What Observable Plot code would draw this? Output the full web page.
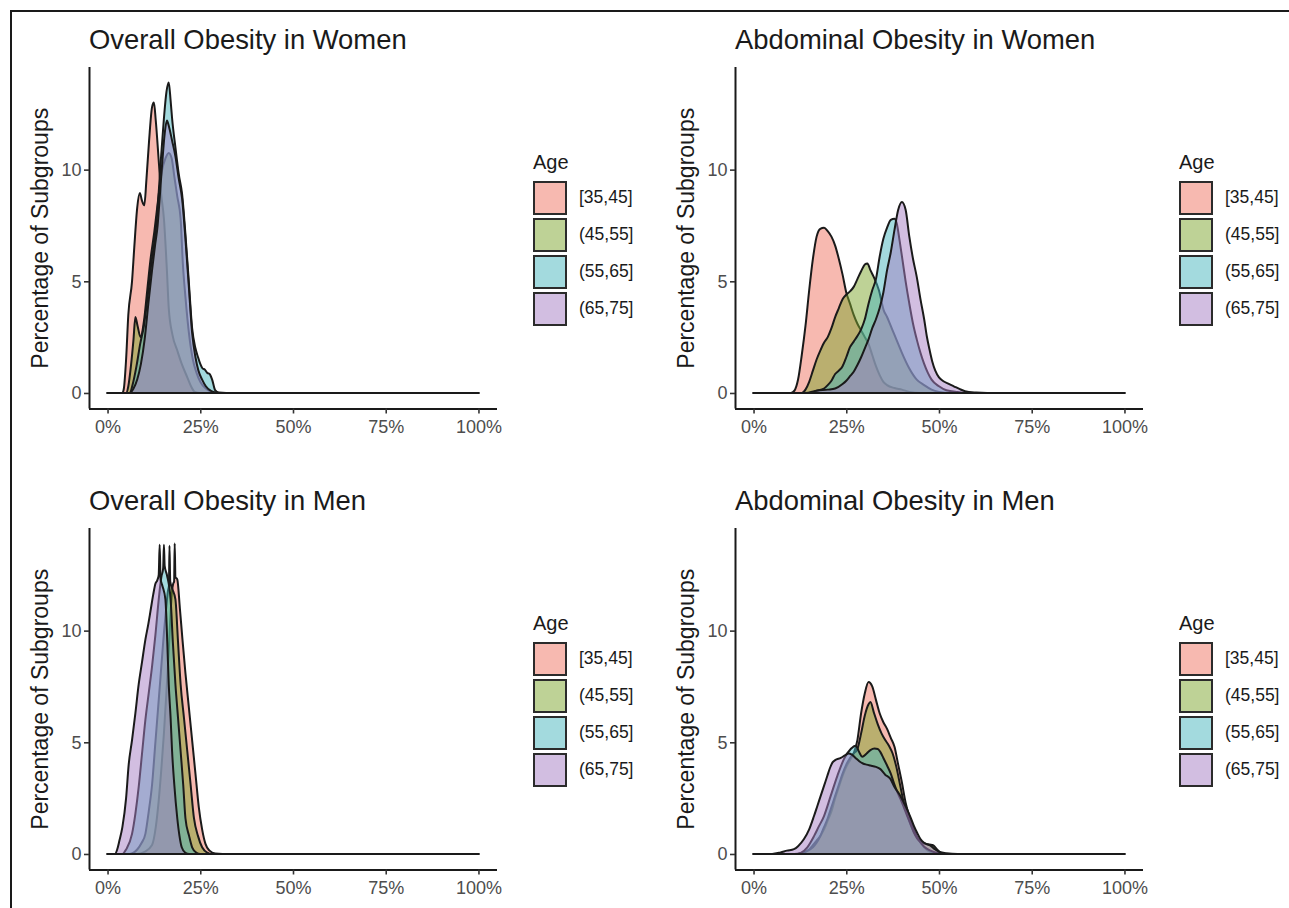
<!DOCTYPE html>
<html>
<head>
<meta charset="utf-8">
<script src="https://cdn.jsdelivr.net/npm/d3@7"></script>
<script src="https://cdn.jsdelivr.net/npm/@observablehq/plot@0.6"></script>
<style>
  body { margin: 0; background: #fff; font-family: "Liberation Sans", Arial, sans-serif; }
  #root { position: relative; width: 1289px; height: 908px; overflow: hidden; background: #fff; }
  #frame { position: absolute; left: 10px; top: 10px; right: -4px; bottom: -4px; border-top: 2px solid #1a1a1a; border-left: 2px solid #1a1a1a; }
  .title { position: absolute; font-size: 27.4px; color: #1a1a1a; white-space: nowrap; line-height: 1; }
  .panel { position: absolute; }
  .panel svg { overflow: visible; }
  .legend { position: absolute; }
  .ltitle { position: absolute; left: 0; top: 0; font-size: 20px; line-height: 1; color: #1a1a1a; white-space: nowrap; }
  .key { position: absolute; left: 0; width: 30px; height: 30px; border: 2px solid #2b2b2b; }
  .klabel { position: absolute; font-size: 17.5px; line-height: 1; color: #1a1a1a; white-space: nowrap; }
</style>
</head>
<body>
<div id="root"><div id="frame"></div></div>
<script>
// ---- categories, labels, ticks ----
const ages = ["[35,45]", "(45,55]", "(55,65]", "(65,75]"];
const colors = ["#EF7361", "#7DA52D", "#47B5BD", "#A57DC3"];
const titles = ["Overall Obesity in Women", "Abdominal Obesity in Women", "Overall Obesity in Men", "Abdominal Obesity in Men"];
const yLabel = "Percentage of Subgroups";
const legendTitle = "Age";
const xTicks = [0, 0.25, 0.5, 0.75, 1];
const yTicks = [0, 5, 10];

// ---- density curves: [percent, density] ----
// Overall obesity, women
const owA = [[0,0],[4,0],[4.4,0.2],[5,1.5],[5.6,3.5],[6.6,5.0],[7.2,6.5],[8,8.3],[8.7,8.95],[9.3,8.6],[9.9,8.4],[10.5,9.6],[11.2,11.3],[12,12.8],[12.5,13.0],[13,12.2],[13.8,10.4],[14.4,9.0],[15.2,7.8],[16,5.5],[16.5,3.8],[17.5,2.6],[18.8,1.9],[20,1.3],[21.5,0.7],[22.5,0.3],[23.5,0.05],[25,0],[100,0]];
const owB = [[0,0],[5,0],[5.6,0.3],[6.3,1.2],[7,2.4],[7.5,3.4],[8.1,3.0],[8.9,2.5],[9.8,3.2],[10.7,4.6],[11.6,6.0],[12.6,7.2],[13.6,8.6],[14.6,9.9],[15.6,10.5],[16.5,10.75],[17.3,10.5],[18,9.7],[18.8,8.8],[19.7,7.8],[20.3,5.8],[21,4.3],[22,2.6],[23,1.5],[24,0.9],[25,0.5],[26.5,0.2],[28,0.05],[30,0],[100,0]];
const owC = [[0,0],[6,0],[6.8,0.4],[7.8,1.2],[8.8,2.2],[9.8,3.0],[10.8,4.3],[11.8,5.8],[12.8,7.0],[13.6,8.5],[14.4,10.5],[15.2,12.3],[15.9,13.5],[16.5,13.9],[17,13.1],[17.4,12.3],[18.3,11.0],[19.2,9.8],[20.1,8.9],[21,7.1],[21.9,5.0],[22.8,2.9],[23.7,2.0],[24.4,1.6],[25,1.3],[25.6,1.1],[26.2,1.05],[26.9,0.9],[27.5,0.85],[28.2,0.6],[29,0.13],[30,0.02],[32,0],[100,0]];
const owD = [[0,0],[6,0],[7,0.2],[8,0.6],[9,1.3],[10,2.4],[11,4.0],[12,5.5],[12.8,6.6],[13.5,7.5],[14,8.6],[14.7,10.2],[15.4,11.6],[16,12.2],[16.6,11.9],[17.4,11.3],[18.3,10.6],[19.2,9.6],[20.1,8.7],[21,6.9],[21.9,4.8],[22.8,2.7],[23.7,1.6],[24.5,1.0],[25.5,0.6],[26.5,0.3],[28,0.08],[30,0],[100,0]];
// Abdominal obesity, women
const awA = [[0,0],[10,0],[11,0.1],[12,0.6],[13,1.7],[14,3.0],[15,4.6],[16,6.0],[17,7.0],[18,7.35],[19,7.4],[20,7.25],[21,7.0],[22,6.6],[23,6.0],[24,5.3],[25,4.5],[26,4.0],[27,3.5],[28,3.1],[29,2.8],[30,2.5],[31,2.2],[32,1.7],[33,1.2],[34,0.8],[35,0.5],[36,0.35],[38,0.22],[40,0.15],[42,0.05],[45,0],[100,0]];
const awB = [[0,0],[13,0],[14,0.15],[15,0.5],[16,1.0],[17,1.5],[18,1.9],[19,2.25],[20,2.5],[21,2.9],[22,3.4],[23,3.8],[24,4.2],[25,4.4],[26,4.55],[27,4.75],[28,5.1],[29,5.45],[30,5.75],[30.7,5.8],[31.5,5.5],[32.4,5.2],[33.8,4.6],[35.1,3.7],[36,3.4],[37,3.0],[38,2.6],[39,2.2],[40,1.8],[42,1.1],[44,0.6],[46,0.35],[48,0.15],[50,0.05],[53,0],[100,0]];
const awC = [[0,0],[15,0],[17,0.1],[19,0.2],[20,0.35],[21,0.55],[22,0.85],[23,1.0],[24,1.2],[25,1.6],[26,2.05],[27,2.3],[28,2.55],[29,2.85],[30,3.3],[31,4.0],[32,4.6],[33,5.1],[34,6.1],[35,6.9],[36,7.4],[37,7.75],[38,7.8],[38.6,7.6],[39.4,6.8],[40.2,5.9],[41,5.0],[42,4.0],[43,3.1],[44,2.4],[45,1.8],[46,1.3],[47,0.9],[48,0.6],[50,0.3],[52,0.12],[55,0.04],[58,0],[100,0]];
const awD = [[0,0],[14,0],[17,0.1],[20,0.15],[22,0.2],[24,0.4],[25,0.55],[26,0.75],[27,0.95],[28,1.25],[29,1.6],[30,2.0],[31,2.4],[32,2.9],[33,3.3],[34,3.8],[35,4.5],[36,5.5],[37,6.3],[38,7.3],[39,8.2],[40,8.55],[41,8.2],[42,7.0],[43,6.0],[44,5.2],[45,4.2],[46,3.3],[46.7,2.55],[47.5,1.9],[48.2,1.4],[49,1.0],[50,0.7],[51,0.55],[52.5,0.42],[54,0.3],[55.5,0.18],[57,0.08],[60,0.02],[63,0],[100,0]];
// Overall obesity, men
const omA = [[0,0],[8,0],[10,0.1],[12,0.4],[13,1.2],[13.8,2.4],[14.5,3.8],[15.2,5.4],[15.9,7.3],[16.5,9.1],[17,10.8],[17.4,11.8],[17.7,12.1],[17.95,12.2],[18.1,13.9],[18.3,12.4],[18.8,12.3],[19.5,11.0],[20.2,9.6],[21,8.1],[21.9,6.6],[22.8,5.1],[23.7,3.6],[24.6,2.1],[25.5,1.1],[26.4,0.45],[27.5,0.15],[29,0.02],[31,0],[100,0]];
const omB = [[0,0],[6,0],[8,0.2],[9.2,0.5],[10.2,0.9],[11.1,1.9],[12,3.1],[12.9,5.0],[13.8,6.9],[14.5,8.4],[15.2,9.9],[15.8,11.0],[16.3,11.8],[16.55,12.0],[16.7,13.8],[16.9,12.2],[17.4,11.9],[18.3,11.4],[19,9.5],[19.7,7.6],[20.6,6.1],[21.5,4.6],[22.4,3.1],[23.3,1.6],[24.4,0.8],[25.5,0.3],[27,0.05],[28,0],[100,0]];
const omC = [[0,0],[4,0],[5,0.2],[6.6,0.9],[7.5,1.8],[8.4,3.0],[9.3,4.5],[10.2,6.0],[11.1,7.2],[12,8.4],[12.9,9.8],[13.8,11.4],[14.5,12.4],[15,12.8],[15.2,13.85],[15.4,12.9],[16,12.5],[17,11.4],[17.6,9.5],[18.3,7.6],[19,6.1],[19.7,4.6],[20.4,3.1],[21,1.6],[22,0.8],[22.8,0.3],[24,0.05],[25,0],[100,0]];
const omD = [[0,0],[2,0],[2.6,0.2],[3.2,0.6],[4,1.2],[5,2.5],[5.7,4.0],[6.6,5.1],[7.5,6.3],[8.4,7.6],[9.3,8.6],[10.2,9.6],[11,10.3],[11.6,10.9],[12.3,11.6],[12.9,12.1],[13.4,12.25],[13.8,12.5],[14.05,13.85],[14.3,12.3],[14.8,12.0],[15.6,11.4],[16.1,9.5],[16.5,7.6],[17,6.1],[17.4,4.6],[18,3.1],[18.8,1.6],[19.4,0.8],[20,0.3],[21,0.05],[22,0],[100,0]];
// Abdominal obesity, men
const amA = [[0,0],[12,0],[14,0.1],[15,0.2],[16,0.4],[17,0.6],[18,0.8],[19,1.1],[20,1.5],[21,1.9],[22,2.5],[23,3.0],[24,3.5],[25,3.9],[26,4.2],[27,4.5],[28,5.1],[29,6.3],[30,7.2],[31,7.7],[32,7.5],[33,6.9],[34,6.3],[35,5.9],[36,5.6],[37,5.2],[38,4.8],[39,4.0],[40,3.2],[41,2.3],[42,1.7],[43,1.2],[44,0.8],[45,0.5],[46,0.3],[47,0.15],[49,0.03],[51,0],[100,0]];
const amB = [[0,0],[12,0],[14,0.1],[16,0.3],[17,0.5],[18,0.8],[19,1.2],[20,1.6],[21,2.1],[22,2.6],[23,3.1],[24,3.6],[25,4.0],[26,4.3],[27,4.5],[28,4.7],[29,5.4],[30,6.2],[31,6.7],[31.5,6.8],[32.5,6.3],[33.5,5.8],[34.5,5.4],[35.5,5.1],[36.5,4.85],[37.5,4.5],[38.5,3.9],[39.5,3.1],[40.5,2.3],[41.5,1.7],[42.5,1.25],[43.5,0.9],[44.5,0.65],[45.5,0.5],[46.5,0.45],[47.5,0.42],[48.5,0.38],[49.5,0.2],[50.5,0.05],[52,0],[100,0]];
const amC = [[0,0],[11,0],[12.7,0.05],[14.5,0.3],[16.3,0.8],[17.5,1.2],[19,1.7],[20.8,2.6],[22.6,3.5],[24.4,4.26],[26.2,4.7],[27.5,4.85],[28.5,4.55],[29.3,4.35],[30.5,4.5],[31.5,4.65],[32.6,4.72],[33.5,4.7],[34.2,4.56],[35,4.3],[36,3.96],[37,3.6],[37.8,3.2],[38.7,2.8],[39.6,2.47],[40.5,2.1],[41.4,1.72],[42.3,1.35],[43.2,0.97],[44.1,0.7],[45,0.52],[46,0.32],[47.7,0.15],[50,0.03],[52,0],[100,0]];
const amD = [[0,0],[5,0],[7.3,0.07],[9,0.15],[10.9,0.22],[12,0.35],[13.6,0.67],[15,1.1],[16.3,1.7],[17.2,2.15],[18.1,2.6],[19,3.05],[19.9,3.5],[20.6,3.85],[21.3,4.1],[22,4.2],[23.5,4.3],[24.5,4.4],[25.7,4.5],[26.5,4.45],[27.5,4.3],[28.5,4.15],[29.5,4.05],[30.5,4.0],[31.5,3.96],[33,3.9],[34.2,3.8],[35.5,3.55],[36.9,3.36],[38,3.0],[39.6,2.6],[40.5,2.3],[41.4,2.0],[42.3,1.65],[43.2,1.27],[44.1,0.95],[45,0.67],[46,0.5],[47.7,0.37],[49,0.2],[50,0.1],[52,0.03],[55,0],[100,0]];

// ---- build ----
const root = document.getElementById("root");
const xDomain = [-0.05, 1.05];
const yDomain = [-0.695, 14.595];
const ink = "#1a1a1a";
const panels = [
  {title: titles[0], series: [owA, owB, owC, owD], left: 0, top: 60},
  {title: titles[1], series: [awA, awB, awC, awD], left: 646, top: 60},
  {title: titles[2], series: [omA, omB, omC, omD], left: 0, top: 521},
  {title: titles[3], series: [amA, amB, amC, amD], left: 646, top: 521}
];

for (const p of panels) {
  const rows = [];
  p.series.forEach((s, i) => s.forEach(([pct, v]) => rows.push({age: ages[i], x: pct / 100, y0: 0, y: v})));

  const chart = Plot.plot({
    width: 520, height: 383.5,
    marginLeft: 89, marginRight: 23, marginTop: 7, marginBottom: 35,
    x: {domain: xDomain},
    y: {domain: yDomain},
    color: {domain: ages, range: colors},
    style: {fontFamily: '"Liberation Sans", Arial, sans-serif', fontSize: "18px", background: "transparent", overflow: "visible"},
    marks: [
      Plot.areaY(rows, {x: "x", y1: "y0", y2: "y", z: "age", fill: "age", fillOpacity: 0.5, stroke: ink, strokeWidth: 2, strokeLinejoin: "round", curve: "monotone-x"}),
      Plot.ruleX([xDomain[0]], {stroke: ink, strokeWidth: 2}),
      Plot.ruleY([yDomain[0]], {stroke: ink, strokeWidth: 2}),
      Plot.axisX({ticks: xTicks, tickFormat: d => Math.round(d * 100) + "%", tickSize: 5, tickPadding: 6, stroke: "#333", fill: "#4d4d4d", strokeWidth: 1.6, fontSize: 18, label: null}),
      Plot.axisY({ticks: yTicks, tickSize: 5, tickPadding: 3, stroke: "#333", fill: "#4d4d4d", strokeWidth: 1.6, fontSize: 18, label: null}),
      Plot.text([yLabel], {text: d => d, frameAnchor: "left", textAnchor: "middle", rotate: -90, dx: -42, lineAnchor: "bottom", fontSize: 23, fill: ink})
    ]
  });
  const wrap = document.createElement("div");
  wrap.className = "panel";
  wrap.style.left = p.left + "px";
  wrap.style.top = p.top + "px";
  wrap.appendChild(chart);
  root.appendChild(wrap);

  const t = document.createElement("div");
  t.className = "title";
  t.textContent = p.title;
  t.style.left = (p.left + 89) + "px";
  t.style.top = (p.top - 34) + "px";
  root.appendChild(t);

  const lg = document.createElement("div");
  lg.className = "legend";
  lg.style.left = (p.left + 533) + "px";
  lg.style.top = (p.top + 92) + "px";
  const lt = document.createElement("div");
  lt.className = "ltitle";
  lt.textContent = legendTitle;
  lg.appendChild(lt);
  ages.forEach((a, i) => {
    const k = document.createElement("div");
    k.className = "key";
    const c = d3.color(colors[i]); c.opacity = 0.5;
    k.style.background = c.formatRgb();
    k.style.top = (29 + i * 37) + "px";
    lg.appendChild(k);
    const l = document.createElement("div");
    l.className = "klabel";
    l.textContent = a;
    l.style.left = "46px";
    l.style.top = (29 + i * 37 + 8) + "px";
    lg.appendChild(l);
  });
  root.appendChild(lg);
}
</script>
</body>
</html>
